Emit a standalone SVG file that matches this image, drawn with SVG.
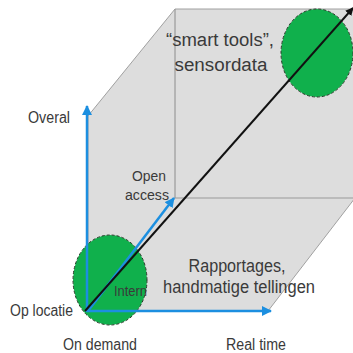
<svg xmlns="http://www.w3.org/2000/svg" width="353" height="353" viewBox="0 0 353 353">
<style>
.t{font-family:"Liberation Sans",Arial,sans-serif;fill:#3a3a3a}
.edge{fill:none;stroke:#9a9a9a;stroke-width:1.2}
.blob{fill:#10b04c;stroke:#2a3a2a;stroke-width:1;stroke-dasharray:3,2}
.axis{stroke:#1c8fe0;stroke-width:2.5;fill:none}
</style>
<defs>
<marker id="ab" viewBox="0 0 10 10" refX="9" refY="5" markerWidth="4" markerHeight="4" orient="auto" markerUnits="strokeWidth">
<path d="M0,0 L10,5 L0,10 Z" fill="#1c8fe0"/>
</marker>
<marker id="ak" viewBox="0 0 10 10" refX="9" refY="5" markerWidth="4" markerHeight="4" orient="auto" markerUnits="strokeWidth">
<path d="M0,0 L10,5 L0,10 Z" fill="#111"/>
</marker>
</defs>
<rect width="353" height="353" fill="#fff"/>
<g id="cube">
<path d="M88,116 L175,9 L355,9 L355,198 L268,311 L88,311 Z" fill="#dddddd" stroke="#a0a0a0" stroke-width="1"/>
<path class="edge" d="M175,9 L175,198 L355,198"/>
</g>
<g id="node-smart">
<ellipse class="blob" cx="317" cy="53" rx="36" ry="44"/>
<text class="t" x="220" y="46" font-size="18" text-anchor="middle" textLength="108" lengthAdjust="spacingAndGlyphs">“smart tools”,</text>
<text class="t" x="221" y="71" font-size="18" text-anchor="middle" textLength="93" lengthAdjust="spacingAndGlyphs">sensordata</text>
</g>
<g id="node-intern">
<ellipse class="blob" cx="110" cy="280" rx="37" ry="45"/>
<text class="t" x="114" y="296" font-size="15" textLength="33" lengthAdjust="spacingAndGlyphs">Intern</text>
</g>
<g id="node-rapportages">
<text class="t" x="237" y="272" font-size="17.5" text-anchor="middle" textLength="97" lengthAdjust="spacingAndGlyphs">Rapportages,</text>
<text class="t" x="239" y="293" font-size="17.5" text-anchor="middle" textLength="152" lengthAdjust="spacingAndGlyphs">handmatige tellingen</text>
</g>
<g id="labels">
<text class="t" x="28" y="123" font-size="16" textLength="42" lengthAdjust="spacingAndGlyphs">Overal</text>
<text class="t" x="132" y="181" font-size="15.5" textLength="34" lengthAdjust="spacingAndGlyphs">Open</text>
<text class="t" x="125" y="200" font-size="15.5" textLength="44" lengthAdjust="spacingAndGlyphs">access</text>
<text class="t" x="10" y="316" font-size="16" textLength="63" lengthAdjust="spacingAndGlyphs">Op locatie</text>
<text class="t" x="63" y="350" font-size="16" textLength="74" lengthAdjust="spacingAndGlyphs">On demand</text>
<text class="t" x="226" y="350" font-size="16" textLength="60" lengthAdjust="spacingAndGlyphs">Real time</text>
</g>
<g id="connectors">
<line class="axis" x1="87" y1="312" x2="87" y2="106" marker-end="url(#ab)"/>
<line class="axis" x1="86" y1="311" x2="271" y2="311" marker-end="url(#ab)"/>
<line class="axis" x1="88" y1="311" x2="174" y2="198" marker-end="url(#ab)"/>
<line x1="85" y1="311" x2="353" y2="8" stroke="#111" stroke-width="2" marker-end="url(#ak)"/>
</g>
</svg>
